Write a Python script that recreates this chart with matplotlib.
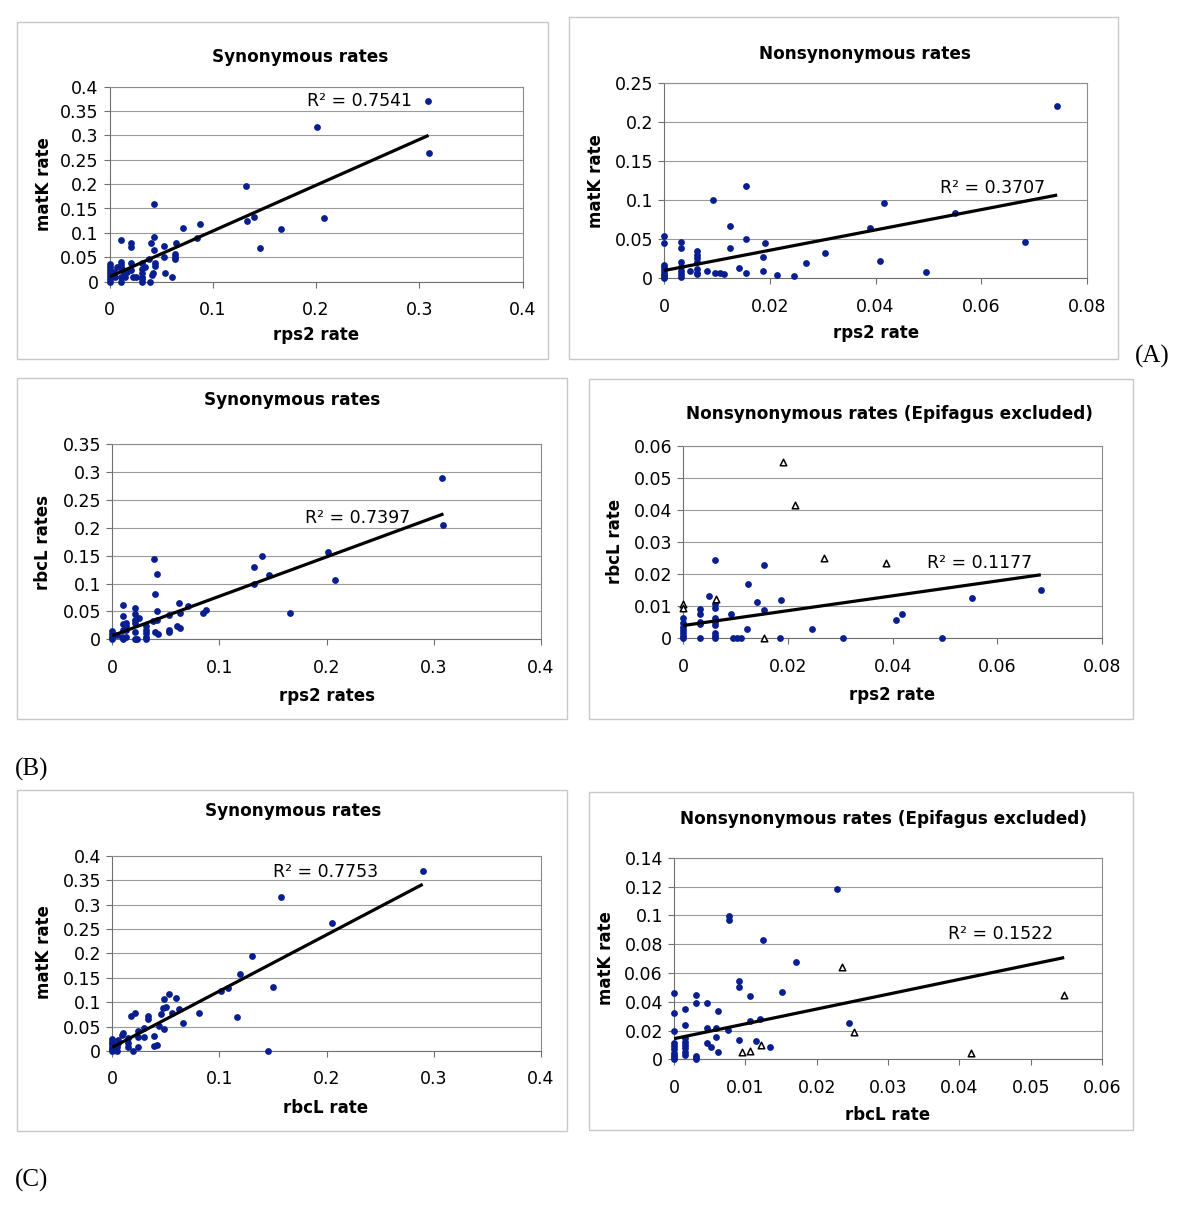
import numpy as np
import matplotlib
matplotlib.use("Agg")
import matplotlib.pyplot as plt
from matplotlib.patches import Rectangle
from matplotlib.ticker import FuncFormatter, MultipleLocator

# ---- data ----
# (A) synonymous: rps2 vs matK
a_syn_x = [0.308, 0.309, 0.201, 0.208, 0.166, 0.146, 0.140, 0.133, 0.132, 0.088,
           0.085, 0.071, 0.064, 0.063, 0.063, 0.063, 0.061, 0.054, 0.053, 0.053,
           0.043, 0.043, 0.043, 0.040, 0.044, 0.044, 0.042, 0.041, 0.039, 0.038,
           0.011, 0.021, 0.021, 0.011, 0.011, 0.012, 0.011, 0.011, 0.014, 0.021,
           0.021, 0.023, 0.026, 0.031, 0.031, 0.031, 0.031, 0.031, 0.031, 0.034,
           0, 0, 0, 0, 0, 0, 0, 0.004, 0.005, 0.007, 0.015, 0.017]
a_syn_y = [0.371, 0.263, 0.317, 0.131, 0.107, 0.070, 0.132, 0.124, 0.196, 0.118,
           0.090, 0.111, 0.079, 0.057, 0.046, 0.051, 0.010, 0.017, 0.051, 0.074,
           0.159, 0.092, 0.064, 0.079, 0.039, 0.032, 0.018, 0.014, 0, 0.046,
           0.085, 0.080, 0.072, 0.041, 0.034, 0.027, 0, 0.010, 0.018, 0.038,
           0.024, 0.010, 0.010, 0.039, 0.027, 0.018, 0.010, 0.005, 0, 0.031,
           0.037, 0.030, 0.024, 0.018, 0.012, 0.006, 0, 0.020, 0.010, 0.031, 0.010, 0.020]

# (A) nonsynonymous: rps2 vs matK
a_non_x = [0.0744, 0.0683, 0.0551, 0.0495, 0.0416, 0.0408, 0.0389, 0.0305, 0.0268, 0.0246,
           0.0214, 0.0191, 0.0187, 0.0186, 0.0155, 0.0155, 0.0155, 0.0141, 0.0124, 0.0124,
           0.0092, 0.0096, 0.0105, 0.0113, 0.0080,
           0.0061, 0.0061, 0.0061, 0.0061, 0.0061, 0.0061, 0.0061, 0.0049,
           0.0031, 0.0031, 0.0031, 0.0031, 0.0031, 0.0031, 0.0031,
           0, 0, 0, 0, 0, 0, 0, 0, 0]
a_non_y = [0.221, 0.0466, 0.0833, 0.0077, 0.097, 0.0222, 0.0641, 0.032, 0.0192, 0.003,
           0.0047, 0.0449, 0.0278, 0.0098, 0.118, 0.0504, 0.0068, 0.0137, 0.0671, 0.0393,
           0.100, 0.0064, 0.0064, 0.0056, 0.0094,
           0.035, 0.030, 0.0256, 0.0214, 0.0115, 0.0073, 0.005, 0.0094,
           0.0466, 0.0393, 0.0209, 0.015, 0.0098, 0.005, 0.002,
           0.0543, 0.0449, 0.017, 0.014, 0.0107, 0.0073, 0.0043, 0.0013, 0]

# (B) synonymous: rps2 vs rbcL
b_syn_x = [0.308, 0.309, 0.201, 0.208, 0.166, 0.140, 0.146, 0.132, 0.132, 0.087,
           0.085, 0.071, 0.062, 0.063, 0.060, 0.063, 0.053, 0.053, 0.053, 0.039,
           0.042, 0.040, 0.042, 0.042, 0.038, 0.040, 0.043,
           0.031, 0.031, 0.031, 0.031, 0.031, 0.025,
           0.021, 0.021, 0.021, 0.021, 0.021, 0.021, 0.023,
           0.013, 0.013, 0.013, 0.013,
           0.010, 0.010, 0.010, 0.010, 0.010, 0.009,
           0, 0, 0, 0, 0.004]
b_syn_y = [0.289, 0.205, 0.157, 0.107, 0.048, 0.150, 0.116, 0.130, 0.100, 0.052,
           0.048, 0.059, 0.065, 0.048, 0.024, 0.021, 0.044, 0.017, 0.014, 0.145,
           0.117, 0.081, 0.050, 0.035, 0.032, 0.014, 0.010,
           0.023, 0.017, 0.011, 0.005, 0, 0.038,
           0.056, 0.045, 0.035, 0.029, 0.014, 0, 0,
           0.030, 0.024, 0.017, 0.005,
           0.062, 0.041, 0.027, 0.017, 0, 0.005,
           0.015, 0.010, 0.005, 0, 0.008]

# (B) nonsynonymous: rps2 vs rbcL (triangles = Epifagus)
b_non_x = [0.0683, 0.0552, 0.0494, 0.0417, 0.0406, 0.0305, 0.0246, 0.0187, 0.0185, 0.0154,
           0.0154, 0.0140, 0.0123, 0.0122, 0.0111, 0.0103, 0.0095, 0.0092, 0.0061,
           0.0061, 0.0061, 0.0061, 0.0061, 0.0061, 0.0061, 0.0061, 0.0061, 0.0050,
           0.0031, 0.0031, 0.0031, 0.0031, 0.0031,
           0, 0, 0, 0, 0, 0, 0]
b_non_y = [0.0152, 0.0125, 0, 0.0075, 0.0058, 0, 0.0029, 0.0121, 0, 0.0230,
           0.0090, 0.0114, 0.0171, 0.0029, 0, 0, 0, 0.0075, 0.0246,
           0.0106, 0.0094, 0.0063, 0.0052, 0.0042, 0.0016, 0.0007, 0, 0.0133,
           0.0093, 0.0075, 0.0052, 0.0045, 0,
           0.0063, 0.0047, 0.0036, 0.0026, 0.0016, 0.0007, 0]
b_epi_x = [0.0190, 0.0214, 0.0268, 0.0387, 0.0062, 0, 0, 0.0154]
b_epi_y = [0.055, 0.0417, 0.025, 0.0234, 0.0122, 0.0106, 0.0094, 0]

# (C) synonymous: rbcL vs matK
c_syn_x = [0.2896, 0.2053, 0.1574, 0.1303, 0.1188, 0.1496, 0.1076, 0.1017, 0.116, 0.145,
           0.0812, 0.0656, 0.0622, 0.0591, 0.0557, 0.0529, 0.0501, 0.0482, 0.0473, 0.0457,
           0.0485, 0.0435, 0.042, 0.0389, 0.0386, 0.0336, 0.0336, 0.0299, 0.0299, 0.0243,
           0.0243, 0.0243, 0.0212, 0.0171, 0.019, 0.0149, 0.0149, 0.0149, 0.0103, 0.009,
           0.0056, 0.0056, 0.004, 0.004, 0, 0, 0, 0, 0, 0, 0.0025, 0.0016]
c_syn_y = [0.3686, 0.2614, 0.3147, 0.1939, 0.1577, 0.1311, 0.1297, 0.1229, 0.0689, 0,
           0.0771, 0.0567, 0.0853, 0.1092, 0.0771, 0.1167, 0.0908, 0.1065, 0.0887, 0.0751,
           0.0444, 0.0512, 0.0123, 0.0102, 0.0314, 0.0717, 0.0655, 0.0464, 0.0294, 0.041,
           0.0294, 0.0089, 0.0771, 0.0717, 0, 0.026, 0.0157, 0.0089, 0.036, 0.033,
           0.0225, 0.0157, 0.0089, 0, 0.0239, 0.0191, 0.0137, 0.0089, 0.0041, 0, 0.0123, 0.0055]

# (C) nonsynonymous: rbcL vs matK (triangles = Epifagus)
c_non_x = [0.0229, 0.0077, 0.0077, 0.0125, 0.0171, 0.0091, 0.0091, 0.0152, 0.0106, 0.0246,
           0.0107, 0.0121, 0.0076, 0.0091, 0.0115, 0.0134, 0.0061, 0.0059, 0.0059, 0.0061,
           0.0046, 0.0046, 0.0046, 0.0052,
           0.0031, 0.0031, 0.0031, 0.0031, 0.0031,
           0.0016, 0.0016, 0.0016, 0.0016, 0.0016, 0.0016, 0.0016, 0.0016,
           0, 0, 0, 0, 0, 0, 0, 0, 0, 0]
c_non_y = [0.1185, 0.0998, 0.097, 0.0831, 0.0674, 0.0543, 0.0503, 0.0464, 0.0443, 0.0254,
           0.0268, 0.0277, 0.0203, 0.0134, 0.0129, 0.0088, 0.0335, 0.0217, 0.0157, 0.0049,
           0.0388, 0.0217, 0.0111, 0.0088,
           0.045, 0.0388, 0.0023, 0.0007, 0,
           0.0346, 0.0238, 0.0145, 0.0122, 0.0099, 0.0076, 0.0053, 0.003,
           0.0462, 0.0319, 0.0196, 0.0115, 0.0092, 0.0069, 0.0046, 0.003, 0.0014, 0]
c_epi_x = [0.0235, 0.0547, 0.0252, 0.0416, 0.0095, 0.0106, 0.0122]
c_epi_y = [0.0642, 0.0446, 0.0187, 0.0042, 0.0048, 0.006, 0.0099]

# trendlines as shown (intercept, slope) and R^2 labels
trend_coef = [(0.010, 0.938), (0.0100, 1.30), (0.0066, 0.707),
              (0.0040, 0.232), (0.0075, 1.153), (0.0143, 1.03)]
r2_labels = ["0.7541", "0.3707", "0.7397", "0.1177", "0.7753", "0.1522"]
titles = ["Synonymous rates", "Nonsynonymous rates",
          "Synonymous rates", "Nonsynonymous rates (Epifagus excluded)",
          "Synonymous rates", "Nonsynonymous rates (Epifagus excluded)"]
xlabels = ["rps2 rate", "rps2 rate", "rps2 rates", "rps2 rate", "rbcL rate", "rbcL rate"]
ylabels = ["matK rate", "matK rate", "rbcL rates", "rbcL rate", "matK rate", "matK rate"]

# ---- layout (pixels) ----
W, H = 1200, 1207
NAVY = "#0a1f8f"
GRID = "#8c8c8c"

panels = [
    dict(x=a_syn_x, y=a_syn_y, ex=[], ey=[], box=(17, 22, 548, 359), ax=(109.5, 86.5, 522.5, 281.7),
         xmax=0.4, xstep=0.1, ymax=0.4, ystep=0.05, title=(300, 57), xl=(316, 335), yl=(44, 184),
         r2=(0.191, 0.371)),
    dict(x=a_non_x, y=a_non_y, ex=[], ey=[], box=(569, 17, 1118, 359), ax=(664.3, 83.3, 1086.7, 278.3),
         xmax=0.08, xstep=0.02, ymax=0.25, ystep=0.05, title=(865, 54), xl=(876, 333), yl=(596, 181),
         r2=(0.0522, 0.1154)),
    dict(x=b_syn_x, y=b_syn_y, ex=[], ey=[], box=(17, 378, 567, 719), ax=(112.3, 444.3, 541, 639.3),
         xmax=0.4, xstep=0.1, ymax=0.35, ystep=0.05, title=(292, 400), xl=(327, 696), yl=(43, 542),
         r2=(0.180, 0.217)),
    dict(x=b_non_x, y=b_non_y, ex=b_epi_x, ey=b_epi_y, box=(589, 379, 1133, 719), ax=(683.3, 446.3, 1102, 638.3),
         xmax=0.08, xstep=0.02, ymax=0.06, ystep=0.01, title=(889, 414), xl=(892, 695), yl=(615, 541),
         r2=(0.0466, 0.0234)),
    dict(x=c_syn_x, y=c_syn_y, ex=[], ey=[], box=(17, 790, 567, 1131), ax=(112.3, 855.7, 541, 1051),
         xmax=0.4, xstep=0.1, ymax=0.4, ystep=0.05, title=(293, 811), xl=(326, 1108), yl=(44, 952),
         r2=(0.150, 0.367)),
    dict(x=c_non_x, y=c_non_y, ex=c_epi_x, ey=c_epi_y, box=(589, 792, 1133, 1130), ax=(674, 857.7, 1102, 1059.3),
         xmax=0.06, xstep=0.01, ymax=0.14, ystep=0.02, title=(884, 819), xl=(888, 1115), yl=(606, 958),
         r2=(0.0384, 0.0868)),
]

fig = plt.figure(figsize=(W / 100, H / 100), dpi=100)
plt.rcParams["font.family"] = ["DejaVu Sans"]


def fx(px):
    return px / W


def fy(py):
    return 1 - py / H


fmt = FuncFormatter(lambda v, p: "%g" % round(v, 4))

for i, p in enumerate(panels):
    l, t, r, b = p["box"]
    fig.patches.append(Rectangle((fx(l), fy(b)), (r - l) / W, (b - t) / H, transform=fig.transFigure,
                                 facecolor="none", edgecolor="#c8c8c8", linewidth=1.0, zorder=-1))
    al, at, ar, ab = p["ax"]
    ax = fig.add_axes([fx(al), fy(ab), (ar - al) / W, (ab - at) / H])
    ax.set_xlim(0, p["xmax"])
    ax.set_ylim(0, p["ymax"])
    ax.xaxis.set_major_locator(MultipleLocator(p["xstep"]))
    ax.yaxis.set_major_locator(MultipleLocator(p["ystep"]))
    ax.xaxis.set_major_formatter(fmt)
    ax.yaxis.set_major_formatter(fmt)
    ax.grid(axis="y", color="#9a9a9a", linewidth=0.8)
    ax.set_axisbelow(True)
    for s in ax.spines.values():
        s.set_color(GRID)
        s.set_linewidth(0.8)
    ax.spines["left"].set_color("#707070")
    ax.spines["bottom"].set_color("#707070")
    ax.tick_params(direction="out", length=4, width=0.8, color="#707070", labelsize=12.5, pad=4)
    ax.tick_params(axis="x", pad=10)

    ax.scatter(p["x"], p["y"], s=24, color=NAVY, zorder=3, linewidths=0, clip_on=False)
    if p["ex"]:
        ax.scatter(p["ex"], p["ey"], s=22, marker="^", facecolor="white", edgecolor="black",
                   linewidths=1.1, zorder=3, clip_on=False)

    c0, c1 = trend_coef[i]
    allx = list(p["x"]) + list(p["ex"])
    lx = np.array([min(allx), max(allx)])
    ax.plot(lx, c0 + c1 * lx, color="black", linewidth=2.3, zorder=4, solid_capstyle="butt")
    ax.text(p["r2"][0], p["r2"][1], "R² = " + r2_labels[i], fontsize=12.5, ha="left", va="center",
            zorder=5)

    fig.text(fx(p["title"][0]), fy(p["title"][1]), titles[i], fontsize=12.2, fontweight="bold",
             ha="center", va="center")
    fig.text(fx(p["xl"][0]), fy(p["xl"][1]), xlabels[i], fontsize=12, fontweight="bold",
             ha="center", va="center")
    fig.text(fx(p["yl"][0]), fy(p["yl"][1]), ylabels[i], fontsize=12, fontweight="bold",
             ha="center", va="center", rotation=90)

for lab, (px, py) in zip(["(A)", "(B)", "(C)"], [(1152, 356), (32, 769), (32, 1180)]):
    fig.text(fx(px), fy(py), lab, fontsize=18, family=["Liberation Serif", "DejaVu Serif"],
             ha="center", va="center")

fig.savefig("out.png", dpi=100, facecolor="white")
